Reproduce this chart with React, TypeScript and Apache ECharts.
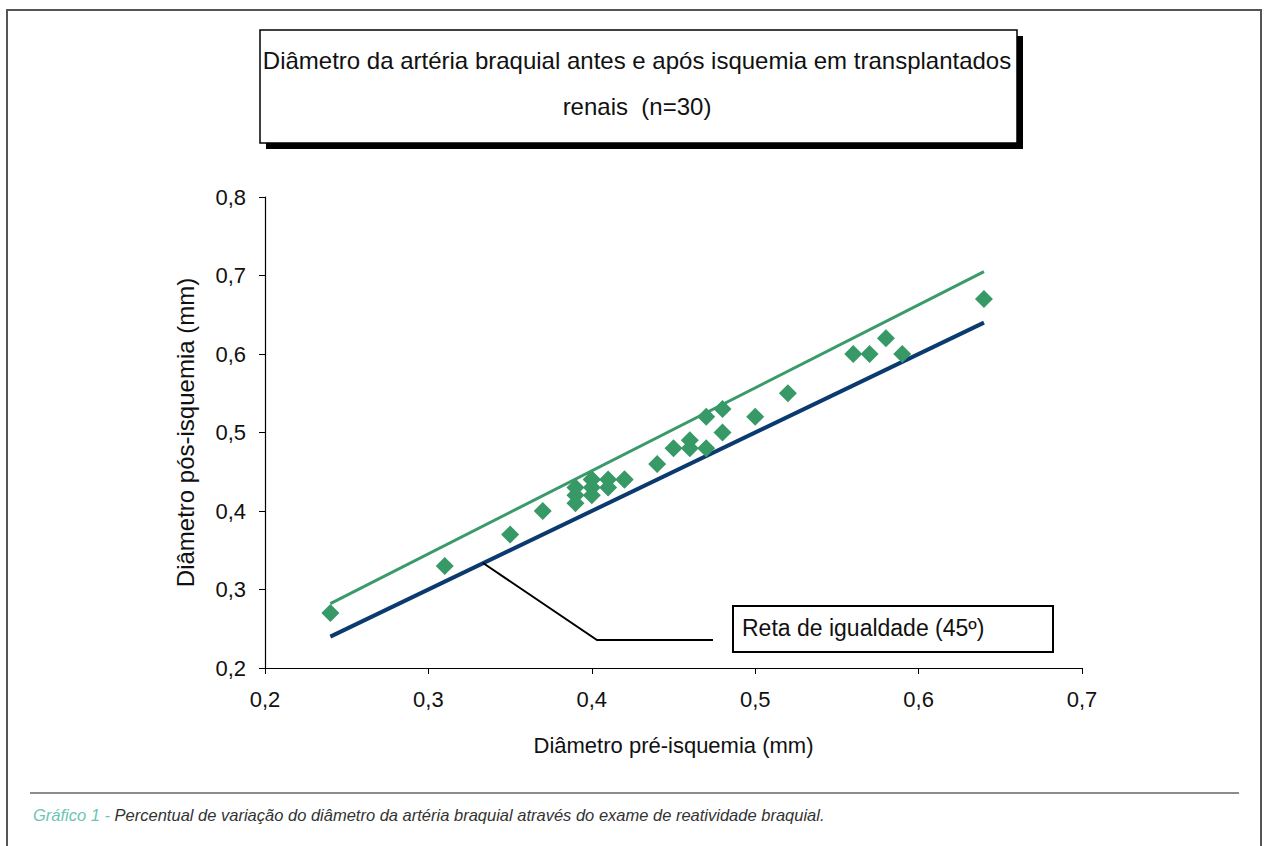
import React, { useEffect, useRef } from "react";
import * as echarts from "echarts";

const preIschemia = [0.24, 0.31, 0.35, 0.37, 0.39, 0.39, 0.39, 0.40, 0.40, 0.40, 0.40, 0.41, 0.41, 0.42, 0.42, 0.44, 0.45, 0.46, 0.46, 0.47, 0.47, 0.48, 0.48, 0.50, 0.52, 0.56, 0.57, 0.58, 0.59, 0.64];
const postIschemia = [0.27, 0.33, 0.37, 0.40, 0.43, 0.42, 0.41, 0.44, 0.43, 0.42, 0.44, 0.44, 0.43, 0.44, 0.44, 0.46, 0.48, 0.49, 0.48, 0.52, 0.48, 0.53, 0.50, 0.52, 0.55, 0.60, 0.60, 0.62, 0.60, 0.67];
const identityX = [0.24, 0.64];
const identityY = [0.24, 0.64];
const trendX = [0.24, 0.64];
const trendY = [0.282, 0.705];
const xTicks = { min: 0.2, max: 0.7, interval: 0.1 };
const yTicks = { min: 0.2, max: 0.8, interval: 0.1 };

const titleLines = ["Diâmetro da artéria braquial antes e após isquemia em transplantados", "renais  (n=30)"];
const xName = "Diâmetro pré-isquemia (mm)";
const yName = "Diâmetro pós-isquemia (mm)";
const annotationText = "Reta de igualdade (45º)";
const captionLead = "Gráfico 1 - ";
const captionRest = "Percentual de variação do diâmetro da artéria braquial através do exame de reatividade braquial.";

const FONT = "'Liberation Sans', Arial, sans-serif";

export default function App() {
  const ref = useRef<HTMLDivElement>(null);
  useEffect(() => {
    document.body.style.margin = "0";
    const chart = echarts.init(ref.current!, null, { renderer: "svg" });
    const fmt = (v: number) => v.toFixed(1).replace(".", ",");
    chart.setOption({
      animation: false,
      backgroundColor: "#ffffff",
      grid: { left: 265, right: 1264 - 1082, top: 197, bottom: 846 - 668, containLabel: false },
      xAxis: {
        type: "value",
        min: xTicks.min,
        max: xTicks.max,
        interval: xTicks.interval,
        name: xName,
        nameLocation: "middle",
        nameGap: 66,
        nameTextStyle: { fontFamily: FONT, fontSize: 22, color: "#111" },
        axisLine: { lineStyle: { color: "#000", width: 1.2 } },
        axisTick: { show: true, length: 6, lineStyle: { color: "#000" } },
        axisLabel: { formatter: fmt, fontFamily: FONT, fontSize: 22, color: "#111", margin: 20 },
        splitLine: { show: false },
      },
      yAxis: {
        type: "value",
        min: yTicks.min,
        max: yTicks.max,
        interval: yTicks.interval,
        name: yName,
        nameLocation: "middle",
        nameGap: 68,
        nameTextStyle: { fontFamily: FONT, fontSize: 24, color: "#111" },
        axisLine: { show: true, lineStyle: { color: "#000", width: 1.2 } },
        axisTick: { show: true, length: 6, lineStyle: { color: "#000" } },
        axisLabel: { formatter: fmt, fontFamily: FONT, fontSize: 22, color: "#111", margin: 19 },
        splitLine: { show: false },
      },
      series: [
        {
          type: "line",
          data: identityX.map((x, i) => [x, identityY[i]]),
          symbol: "none",
          lineStyle: { color: "#0b3a6f", width: 4 },
          z: 2,
        },
        {
          type: "line",
          data: trendX.map((x, i) => [x, trendY[i]]),
          symbol: "none",
          lineStyle: { color: "#3a9a6a", width: 3 },
          z: 3,
        },
        {
          type: "scatter",
          data: preIschemia.map((x, i) => [x, postIschemia[i]]),
          symbol: "diamond",
          symbolSize: 18,
          itemStyle: { color: "#379966", opacity: 1 },
          z: 4,
        },
      ],
      graphic: [
        { type: "rect", shape: { x: 7, y: 10, width: 1254, height: 840 }, style: { fill: "none", stroke: "#555", lineWidth: 2 }, silent: true },
        { type: "rect", shape: { x: 266, y: 36, width: 757, height: 113 }, style: { fill: "#000" } },
        { type: "rect", shape: { x: 260, y: 30, width: 757, height: 113 }, style: { fill: "#fff", stroke: "#000", lineWidth: 1.5 } },
        { type: "text", x: 637, y: 60, style: { text: titleLines[0], fontFamily: FONT, fontSize: 24, fill: "#111", align: "center", verticalAlign: "middle" } },
        { type: "text", x: 637, y: 106, style: { text: titleLines[1], fontFamily: FONT, fontSize: 24, fill: "#111", align: "center", verticalAlign: "middle" } },
        { type: "polyline", shape: { points: [[483, 563], [597, 640], [713, 640]] }, style: { stroke: "#000", lineWidth: 2, fill: "none" }, z: 10 },
        { type: "rect", shape: { x: 733, y: 606, width: 320, height: 46 }, style: { fill: "#fff", stroke: "#000", lineWidth: 2 } },
        { type: "text", x: 742, y: 628, style: { text: annotationText, fontFamily: FONT, fontSize: 23, fill: "#111", align: "left", verticalAlign: "middle" } },
        { type: "line", shape: { x1: 30, y1: 793, x2: 1239, y2: 793 }, style: { stroke: "#666", lineWidth: 1.5 } },
        {
          type: "text", x: 33, y: 815,
          style: {
            text: "{a|" + captionLead + "}{b|" + captionRest + "}",
            verticalAlign: "middle",
            rich: {
              a: { fontFamily: FONT, fontSize: 16.5, fontStyle: "italic", fill: "#6cc4b4" },
              b: { fontFamily: FONT, fontSize: 16.5, fontStyle: "italic", fill: "#333" },
            },
          },
        },
      ],
    });
    return () => chart.dispose();
  }, []);
  return <div ref={ref} style={{ width: 1264, height: 846 }} />;
}
